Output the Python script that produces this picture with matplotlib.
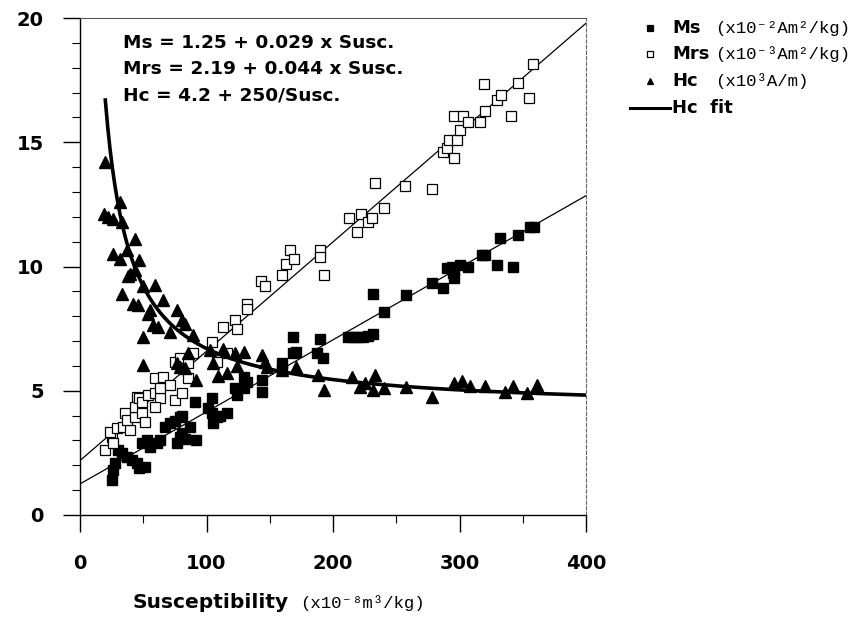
import matplotlib
matplotlib.use("Agg")
import matplotlib.pyplot as plt
from matplotlib.lines import Line2D
import numpy as np

# ---------------- data ----------------
ms_x = [25, 26, 28, 30, 33, 37, 41, 45, 47, 51, 49, 53, 55, 61, 63, 67, 71, 75, 79, 81,
        77, 79, 83, 92, 91, 104, 101, 104, 105, 108, 111, 116, 87, 81, 122.5, 124, 130,
        132, 130, 144, 144, 160, 160, 168, 168, 171, 187, 192, 190, 212, 216, 220, 224,
        228, 232, 232, 240, 258, 278, 287, 290, 294, 296, 300, 307, 296, 295, 318, 320,
        330, 332, 342, 346, 356, 359]
ms_y = [1.41, 1.8, 2.1, 2.6, 2.5, 2.33, 2.2, 2.1, 1.9, 1.93, 2.9, 3.0, 2.74, 2.9, 3.0,
        3.54, 3.7, 3.8, 3.94, 4.0, 2.9, 3.14, 3.06, 3.0, 4.55, 4.7, 4.3, 4.1, 3.7, 3.94,
        4.0, 4.1, 3.54, 3.3, 5.1, 4.83, 5.55, 5.35, 5.1, 5.43, 4.95, 6.1, 5.84, 7.16, 6.5,
        6.56, 6.5, 6.3, 7.08, 7.16, 7.16, 7.16, 7.16, 7.2, 7.28, 8.9, 8.17, 8.85, 9.34,
        9.13, 9.94, 9.98, 9.86, 10.06, 9.98, 9.54, 9.74, 10.46, 10.46, 10.06, 11.15, 9.98,
        11.27, 11.59, 11.59]

mrs_x = [20, 25, 26, 24, 29, 34, 35.6, 39.5, 37, 43.5, 43.5, 49, 45, 47, 49, 51, 54, 59,
         63, 59, 59, 66, 63, 71, 75, 81, 85, 75, 79, 85, 89, 104, 108, 113, 122.5, 124,
         132, 132, 116, 143, 146, 160, 163, 166, 169, 190, 190, 193, 213, 219, 222, 228,
         231, 233, 240, 257, 278, 287, 290, 296, 292, 298, 300, 296, 303, 307, 316, 320,
         319, 330, 333, 341, 346, 355, 358]
mrs_y = [2.6, 3.14, 2.9, 3.34, 3.5, 3.54, 4.1, 3.42, 3.82, 3.94, 4.35, 4.1, 4.75, 4.7,
         4.55, 3.74, 4.83, 4.9, 4.7, 4.35, 5.5, 5.55, 5.1, 5.23, 4.63, 4.9, 5.5, 6.16, 6.3,
         6.1, 6.5, 6.96, 6.16, 7.56, 7.85, 7.5, 8.5, 8.3, 6.5, 9.4, 9.2, 9.65, 10.1, 10.66,
         10.3, 10.66, 10.38, 9.65, 11.95, 11.4, 12.1, 11.8, 11.95, 13.36, 12.35, 13.24,
         13.1, 14.6, 14.77, 14.37, 15.1, 15.1, 15.5, 16.06, 16.06, 15.8, 15.8, 16.26,
         17.34, 16.7, 16.9, 16.06, 17.38, 16.78, 18.15]

hc_x = [20, 19, 22, 26, 31.6, 33, 43.5, 26, 31.6, 37, 47, 39.5, 38, 43.5, 33, 59, 42, 46,
        50, 55, 66, 54, 58, 62, 77, 71, 81, 83, 50, 89, 50, 77, 79, 83, 85, 92, 105, 109,
        116, 113, 103, 122.5, 130, 124, 144, 146, 148, 160, 171, 188, 193, 215, 221, 225,
        233, 232, 240, 258, 278, 296, 302, 308, 320, 336, 342, 353, 361]
hc_y = [14.2, 12.1, 12.0, 11.9, 12.6, 11.8, 11.1, 10.5, 10.3, 10.66, 10.26, 9.7, 9.6,
        9.86, 8.9, 9.25, 8.5, 8.45, 9.2, 8.25, 8.65, 8.1, 7.65, 7.55, 8.25, 7.36, 7.85,
        7.7, 7.16, 7.24, 6.04, 6.1, 5.96, 5.9, 6.5, 5.43, 6.1, 5.6, 5.7, 6.66, 6.64, 6.5,
        6.56, 6.0, 6.44, 6.16, 5.96, 5.84, 5.96, 5.63, 5.03, 5.55, 5.15, 5.3, 5.63, 5.03,
        5.1, 5.15, 4.75, 5.3, 5.4, 5.2, 5.2, 4.95, 5.2, 4.9, 5.25]

# fits
ms_a, ms_b = 1.25, 0.029
mrs_a, mrs_b = 2.19, 0.044
hc_a, hc_b = 4.2, 250.0
hc_fit_start = 20

xticks = [0, 100, 200, 300, 400]
yticks = [0, 5, 10, 15, 20]

eq_lines = ["Ms = 1.25 + 0.029 x Susc.",
            "Mrs = 2.19 + 0.044 x Susc.",
            "Hc = 4.2 + 250/Susc."]

# ---------------- figure ----------------
W, H = 864, 625
fig = plt.figure(figsize=(W / 100, H / 100), dpi=100)
L, R, T, B = 80, 586, 18, 515
ax = fig.add_axes([L / W, (H - B) / H, (R - L) / W, (B - T) / H])

bold = dict(family="DejaVu Sans", weight="bold")
mono = ["Liberation Mono", "DejaVu Sans Mono"]

xs = np.linspace(0, 400, 200)
ax.plot(xs, ms_a + ms_b * xs, color="black", lw=0.9, zorder=2)
ax.plot(xs, mrs_a + mrs_b * xs, color="black", lw=0.9, zorder=2)
xh = np.linspace(hc_fit_start, 400, 400)
ax.plot(xh, hc_a + hc_b / xh, color="black", lw=2.6, zorder=5)

ax.plot(ms_x, ms_y, ls="none", marker="s", ms=7.5, mfc="black", mec="black", zorder=3)
ax.plot(mrs_x, mrs_y, ls="none", marker="s", ms=7.5, mfc="white", mec="black", mew=0.9, zorder=4)
ax.plot(hc_x, hc_y, ls="none", marker="^", ms=8, mfc="black", mec="black", zorder=6)

ax.set_xlim(0, 400)
ax.set_ylim(0, 20)
ax.set_xticks(xticks)
ax.set_yticks(yticks)
ax.set_xticks(np.arange(50, 400, 100), minor=True)
ax.set_yticks(np.arange(0, 21, 1), minor=True)
ax.set_xticklabels([str(t) for t in xticks], fontsize=14, **bold)
ax.set_yticklabels([str(t) for t in yticks], fontsize=14, **bold)
ax.tick_params(which="major", direction="out", length=12, width=1, color="black")
ax.tick_params(which="minor", direction="out", length=6, width=0.8, color="black")
ax.tick_params(axis="y", which="major", pad=14)
ax.tick_params(axis="x", which="major", pad=16)

for s in ["left", "bottom"]:
    ax.spines[s].set_linewidth(1.0)
    ax.spines[s].set_color("black")
ax.spines["top"].set_linewidth(0.8)
ax.spines["top"].set_color("#555555")
ax.spines["right"].set_linewidth(0.8)
ax.spines["right"].set_color("#666666")
ax.spines["right"].set_linestyle((0, (3, 2)))

# equations
for i, t in enumerate(eq_lines):
    fig.text(123 / W, 1 - (43 + 26.5 * i) / H, t, fontsize=13.3, va="center", ha="left", **bold)

# legend
def fx(x):
    return x / W

def fy(y):
    return 1 - y / H

rows = [
    ("s", "black", "Ms", "(x10⁻²Am²/kg)", 28, 715),
    ("s", "white", "Mrs", "(x10⁻³Am²/kg)", 54, 715),
    ("^", "black", "Hc", "(x10³A/m)", 81, 715),
]
for mk, fc, lab, unit, y, ux in rows:
    fig.add_artist(Line2D([fx(650)], [fy(y)], marker=mk, ms=5, mfc=fc, mec="black",
                          mew=0.9, ls="none", transform=fig.transFigure))
    fig.text(fx(672), fy(y), lab, fontsize=13, va="center", ha="left", **bold)
    fig.text(fx(ux), fy(y), unit, fontsize=12.5, va="center", ha="left", family=mono)
fig.add_artist(Line2D([fx(630), fx(670)], [fy(108), fy(108)], color="black", lw=2.2,
                      transform=fig.transFigure))
fig.text(fx(672), fy(108), "Hc  fit", fontsize=13, va="center", ha="left", **bold)

# x label
fig.text(fx(133), fy(603), "Susceptibility", fontsize=14.5, va="center", ha="left", **bold)
fig.text(fx(300), fy(603), "(x10⁻⁸m³/kg)", fontsize=12.5, va="center", ha="left", family=mono)

fig.savefig("out.png", dpi=100)
